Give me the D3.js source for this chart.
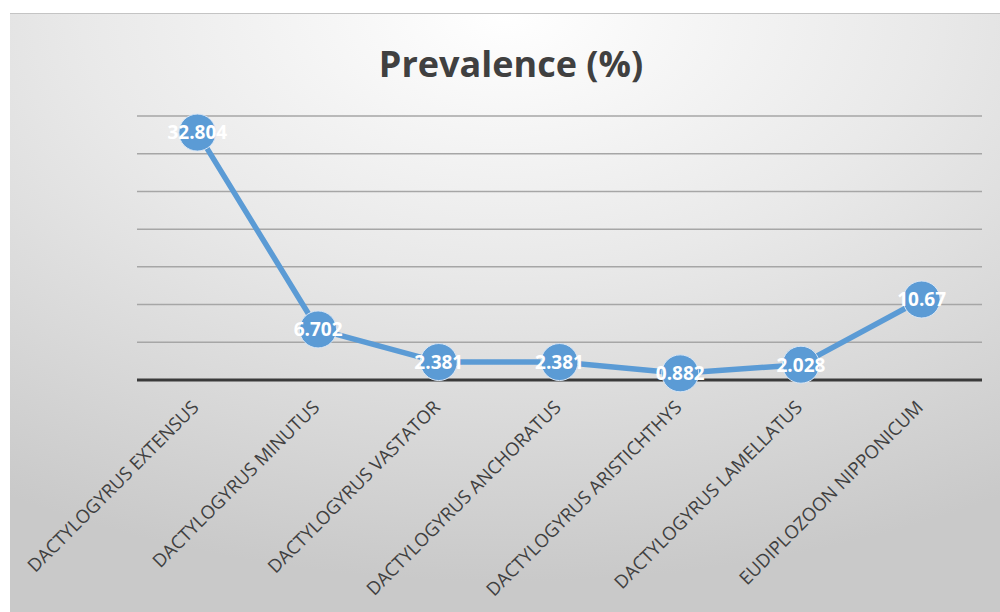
<!DOCTYPE html>
<html>
<head>
<meta charset="utf-8">
<script src="https://cdn.jsdelivr.net/npm/d3@7"></script>
<style>
  body { margin: 0; background: #fff; }
  svg { display: block; }
</style>
</head>
<body>
<div id="container"></div>
<script>
// data
const categories = ["DACTYLOGYRUS EXTENSUS", "DACTYLOGYRUS MINUTUS", "DACTYLOGYRUS VASTATOR",
  "DACTYLOGYRUS ANCHORATUS", "DACTYLOGYRUS ARISTICHTHYS", "DACTYLOGYRUS LAMELLATUS", "EUDIPLOZOON NIPPONICUM"];
const prevalence = [32.804, 6.702, 2.381, 2.381, 0.882, 2.028, 10.67];
const valueLabels = ["32.804", "6.702", "2.381", "2.381", "0.882", "2.028", "10.67"];
const yTicks = [0, 5, 10, 15, 20, 25, 30, 35];

const W = 1000, H = 612;
const margin = {top: 116, right: 18, bottom: 232, left: 137};
const width = W - margin.left - margin.right,
  height = H - margin.top - margin.bottom;

const svg = d3.select("#container").append("svg")
  .attr("width", W).attr("height", H);

// background gradient
const defs = svg.append("defs");
const grad = defs.append("radialGradient").attr("id", "bg")
  .attr("cx", "50%").attr("cy", "0%").attr("r", "95%");
grad.append("stop").attr("offset", "0%").attr("stop-color", "#ffffff");
grad.append("stop").attr("offset", "45%").attr("stop-color", "#e9e9e9");
grad.append("stop").attr("offset", "100%").attr("stop-color", "#c9c9c9");

svg.append("rect")
  .attr("x", 10).attr("y", 13).attr("width", W - 10).attr("height", H - 13)
  .attr("fill", "url(#bg)");
svg.append("line")
  .attr("x1", 10).attr("x2", W).attr("y1", 13.5).attr("y2", 13.5)
  .attr("stroke", "#c4c4c4").attr("stroke-width", 1);

// title
svg.append("text")
  .attr("x", 511).attr("y", 77)
  .attr("text-anchor", "middle")
  .style("font-family", "'Open Sans', sans-serif")
  .style("font-weight", "bold")
  .style("font-size", "36px")
  .style("fill", "#404040")
  .text("Prevalence (%)");

const g = svg.append("g")
  .attr("transform", `translate(${margin.left},${margin.top})`);

const x = d3.scaleBand().domain(categories).range([0, width]);
const y = d3.scaleLinear().domain([0, 35]).range([height, 0]);

// gridlines
g.selectAll(".grid")
  .data(yTicks.filter(d => d > 0))
  .join("line")
    .attr("class", "grid")
    .attr("x1", 0).attr("x2", width)
    .attr("y1", d => y(d)).attr("y2", d => y(d))
    .attr("stroke", "#a6a6a6")
    .attr("stroke-width", 1.5);

// baseline
g.append("line")
  .attr("x1", 0).attr("x2", width)
  .attr("y1", y(0)).attr("y2", y(0))
  .attr("stroke", "#3a3a3a").attr("stroke-width", 3);

// category labels
const xAxis = g.append("g")
  .attr("transform", `translate(0,${height})`)
  .call(d3.axisBottom(x).tickSize(0).tickPadding(0));
xAxis.select(".domain").remove();
xAxis.selectAll("text")
  .attr("transform", "translate(-2,24) rotate(-45)")
  .attr("dy", "0.35em")
  .attr("text-anchor", "end")
  .style("font-family", "'Open Sans', sans-serif")
  .style("font-size", "18.4px")
  .style("fill", "#404040");

const cx = d => x(d) + x.bandwidth() / 2;

// line
const line = d3.line()
  .x((d, i) => cx(categories[i]))
  .y(d => y(d));

g.append("path")
  .datum(prevalence)
  .attr("d", line)
  .attr("fill", "none")
  .attr("stroke", "#5b9bd5")
  .attr("stroke-width", 5.5)
  .attr("stroke-linejoin", "round");

// markers
g.selectAll(".dot")
  .data(prevalence)
  .join("circle")
    .attr("class", "dot")
    .attr("cx", (d, i) => cx(categories[i]))
    .attr("cy", d => y(d))
    .attr("r", 18.5)
    .attr("fill", "#5b9bd5")
    .attr("stroke", "#d9e6f5")
    .attr("stroke-width", 1);

// value labels
g.selectAll(".val")
  .data(prevalence)
  .join("text")
    .attr("class", "val")
    .attr("x", (d, i) => cx(categories[i]))
    .attr("y", d => y(d))
    .attr("dy", "0.36em")
    .attr("text-anchor", "middle")
    .style("font-family", "'Open Sans', sans-serif")
    .style("font-weight", "bold")
    .style("font-size", "19px")
    .style("fill", "#ffffff")
    .text((d, i) => valueLabels[i]);
</script>
</body>
</html>
